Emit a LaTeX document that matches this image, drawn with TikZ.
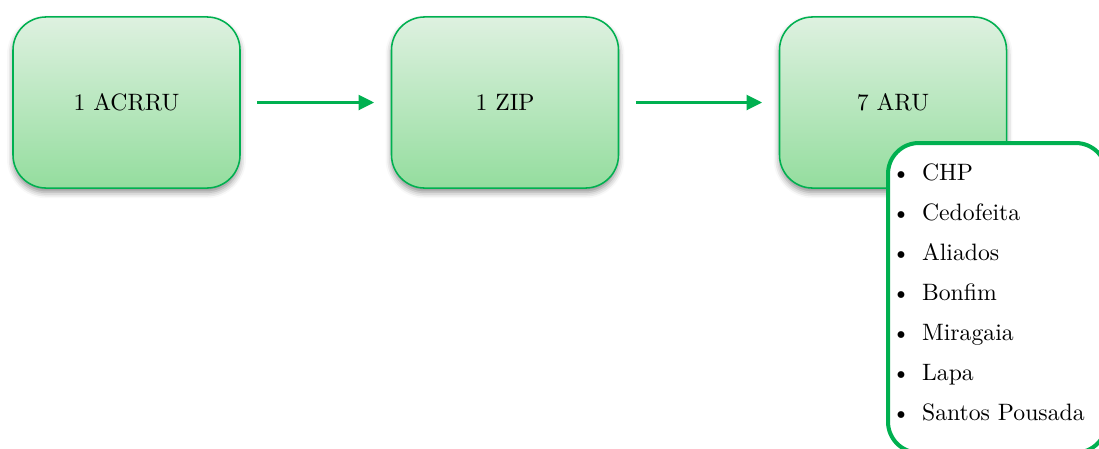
\documentclass[tikz,border=0pt]{standalone}
\usepackage{xcolor}
\usepackage{tikz}
\usetikzlibrary{arrows.meta, positioning, shadows.blur}
\definecolor{arugreen}{RGB}{0, 176, 80}
\definecolor{arutop}{RGB}{222, 241, 224}
\definecolor{arubottom}{RGB}{148, 221, 158}

\tikzset{
    stagebox/.style={draw=arugreen, line width=0.65pt, rounded corners=14pt,
        top color=arutop, bottom color=arubottom,
        minimum width=95.8pt, minimum height=72.2pt, inner sep=0pt,
        blur shadow={shadow xshift=0pt, shadow yshift=-1.8pt, shadow blur radius=2.5pt, shadow opacity=45}},
    flowarrow/.style={draw=arugreen, line width=1.2pt, -{Triangle[length=6.5pt, width=6.2pt]},
        shorten <=7pt, shorten >=7pt},
    listbox/.style={draw=arugreen, line width=1.7pt, rounded corners=13pt, fill=white,
        anchor=north west, inner xsep=1.6pt, inner ysep=8.6pt, text width=89pt, align=left,
        font={\fontsize{10}{16.9}\selectfont}}
}

\begin{document}
\begin{tikzpicture}[x=0.422pt, y=-0.422pt]
    \useasboundingbox (0,0) rectangle (1099,448);
    \node[stagebox] (acrru) at (126.5,102.5) {1 ACRRU};
    \node[stagebox] (zip) at (505,102.5) {1 ZIP};
    \node[stagebox] (aru) at (893,102.5) {7 ARU};
    \draw[flowarrow] (acrru) -- (zip);
    \draw[flowarrow] (zip) -- (aru);
    \node[listbox] (parishes) at (886,141) {%
        \textbullet\hspace{5pt}CHP\\
        \textbullet\hspace{5pt}Cedofeita\\
        \textbullet\hspace{5pt}Aliados\\
        \textbullet\hspace{5pt}Bonfim\\
        \textbullet\hspace{5pt}Miragaia\\
        \textbullet\hspace{5pt}Lapa\\
        \textbullet\hspace{5pt}Santos Pousada\rule[-5pt]{0pt}{1pt}};
\end{tikzpicture}
\end{document}
